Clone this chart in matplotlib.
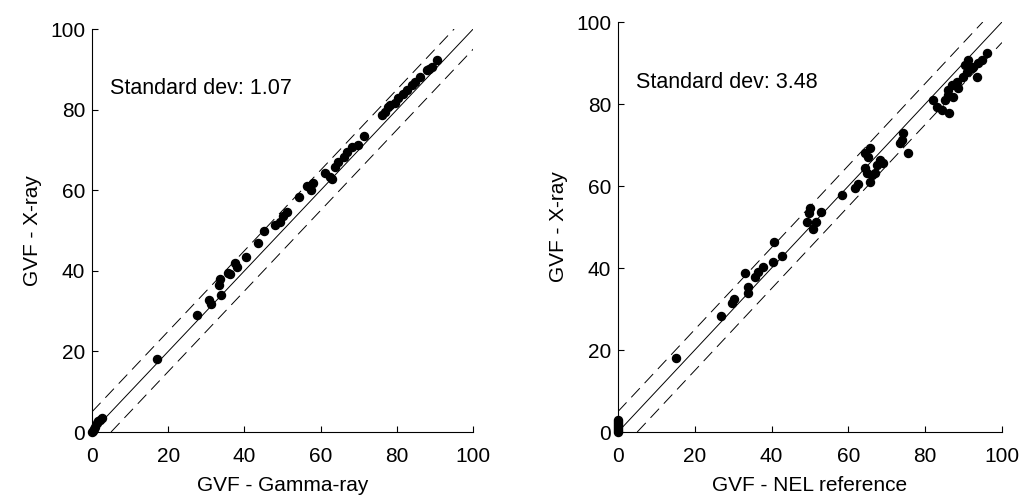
import matplotlib
matplotlib.use("Agg")
import matplotlib.pyplot as plt

plt.rcParams.update(
    {
        "font.family": ["Liberation Sans", "DejaVu Sans"],
        "font.size": 15,
        "lines.scale_dashes": False,
    }
)

# Left panel: GVF gamma-ray vs GVF X-ray
gamma_x = [0.0, 0.2, 0.5, 0.8, 1.2, 1.6, 2.0, 2.5, 17.0, 27.6, 30.7, 31.1, 33.3, 33.6,
           33.9, 35.7, 36.2, 37.5, 38.0, 40.3, 43.6, 45.1, 48.0, 49.3, 50.1, 51.1, 54.3,
           56.3, 57.4, 58.1, 61.2, 62.5, 62.9, 63.8, 64.6, 66.0, 66.8, 68.2, 69.9, 71.4,
           76.0, 76.9, 77.7, 78.2, 79.5, 80.4, 81.7, 82.6, 83.9, 84.8, 86.1, 87.8, 88.3,
           89.2, 90.5]
xray_left = [0.0, 0.3, 0.8, 1.3, 2.2, 2.7, 3.0, 3.5, 18.0, 29.0, 32.8, 31.8, 36.5, 38.0,
             34.0, 39.5, 39.2, 42.0, 41.0, 43.5, 47.0, 50.0, 51.3, 52.2, 53.5, 54.6, 58.2,
             61.0, 60.0, 61.9, 64.3, 63.3, 62.8, 65.8, 67.1, 68.3, 69.6, 70.8, 71.2, 73.4,
             78.6, 79.5, 80.7, 81.1, 81.6, 82.8, 83.8, 84.9, 86.0, 86.8, 88.1, 89.8, 90.2,
             90.6, 92.4]

# Right panel: GVF NEL reference vs GVF X-ray
nel_x = [0.0, 0.0, 0.0, 0.0, 0.0, 0.0, 0.0, 15.1, 26.7, 29.6, 30.2, 33.1, 33.8, 33.8,
         35.7, 36.5, 37.8, 40.3, 42.6, 40.7, 50.0, 49.8, 49.1, 50.9, 51.6, 52.8, 58.4,
         61.7, 62.6, 64.3, 65.6, 65.2, 64.3, 64.8, 66.1, 65.6, 66.9, 68.2, 69.1, 67.4,
         73.4, 74.3, 73.9, 75.6, 82.1, 83.0, 84.3, 86.3, 85.2, 86.0, 86.9, 88.2, 88.6,
         89.9, 90.8, 91.2, 92.5, 93.8, 93.4, 94.7, 96.0, 86.0, 87.3, 92.1, 90.4]
xray_right = [0.0, 0.5, 1.0, 1.5, 2.0, 2.5, 3.0, 18.0, 28.3, 31.5, 32.4, 38.7, 35.4, 33.8,
              37.7, 39.1, 40.3, 41.5, 42.9, 46.4, 54.6, 53.3, 51.3, 49.4, 51.3, 53.7, 57.8,
              59.4, 60.6, 68.0, 69.2, 67.1, 64.3, 63.1, 62.7, 61.0, 63.1, 66.3, 65.5, 65.1,
              70.4, 72.9, 71.2, 68.1, 81.0, 79.3, 78.5, 77.7, 81.0, 83.4, 84.6, 85.4, 83.8,
              86.7, 87.9, 90.7, 89.1, 89.9, 86.7, 90.7, 92.5, 82.2, 81.8, 88.7, 89.5]

LINE_X = [0, 100]
BAND = 5

panels = [
    ([0.090, 0.129, 0.373, 0.8125], gamma_x, xray_left, "GVF - Gamma-ray", "Standard dev: 1.07"),
    ([0.6047, 0.129, 0.3757, 0.8266], nel_x, xray_right, "GVF - NEL reference", "Standard dev: 3.48"),
]

fig = plt.figure(figsize=(10.22, 4.96), dpi=100)

for rect, xs, ys, xlabel, note in panels:
    ax = fig.add_axes(rect)
    ax.plot(LINE_X, LINE_X, color="black", lw=0.7)
    ax.plot([0, 100 - BAND], [BAND, 100], color="black", lw=0.7, dashes=(9, 5))
    ax.plot([BAND, 100], [0, 100 - BAND], color="black", lw=0.7, dashes=(9, 5))
    ax.plot(xs, ys, "o", color="black", markersize=5.8, clip_on=False)
    ax.text(4.7, 85.3, note, ha="left", va="center", fontsize=15.5)
    ax.set_xlim(0, 100)
    ax.set_ylim(0, 100)
    ax.set_xticks([0, 20, 40, 60, 80, 100])
    ax.set_yticks([0, 20, 40, 60, 80, 100])
    ax.spines["top"].set_visible(False)
    ax.spines["right"].set_visible(False)
    ax.tick_params(direction="in", length=4, width=0.8)
    ax.tick_params(axis="x", pad=11)
    ax.tick_params(axis="y", pad=5)
    ax.set_xlabel(xlabel, labelpad=7)
    ax.set_ylabel("GVF - X-ray", labelpad=6)

fig.savefig("out.png", dpi=100, facecolor="white")
